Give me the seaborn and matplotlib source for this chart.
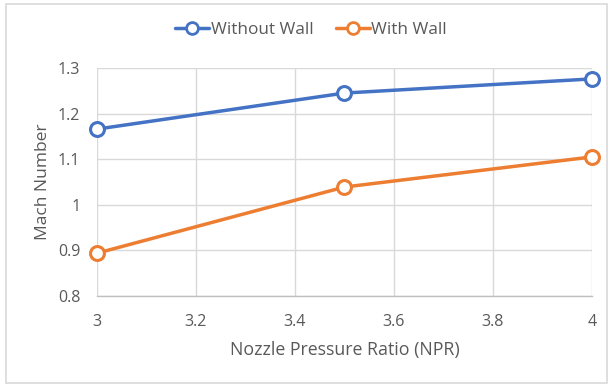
import matplotlib
matplotlib.use("Agg")
import matplotlib.pyplot as plt
import seaborn as sns
import pandas as pd
from matplotlib.patches import Rectangle
from matplotlib.lines import Line2D

npr = [3.0, 3.5, 4.0]
without_wall = [1.166, 1.245, 1.276]
with_wall = [0.894, 1.039, 1.105]
series_names = ["Without Wall", "With Wall"]
x_ticks = [3, 3.2, 3.4, 3.6, 3.8, 4]
x_tick_labels = ["3", "3.2", "3.4", "3.6", "3.8", "4"]
y_ticks = [0.8, 0.9, 1.0, 1.1, 1.2, 1.3]
y_tick_labels = ["0.8", "0.9", "1", "1.1", "1.2", "1.3"]

df = pd.DataFrame({
    "NPR": npr * 2,
    "Mach": without_wall + with_wall,
    "Series": [series_names[0]] * len(npr) + [series_names[1]] * len(npr),
})

sns.set_style("white")
plt.rcParams['font.family'] = ['Open Sans', 'DejaVu Sans']
text_color = "#595959"

fig = plt.figure(figsize=(6.12, 3.84), dpi=100)
ax = fig.add_axes([0.1585, 0.229, 0.8085, 0.594])

palette = {"Without Wall": "#4472C4", "With Wall": "#ED7D31"}
sns.lineplot(data=df, x="NPR", y="Mach", hue="Series", palette=palette,
             marker="o", markersize=10, markerfacecolor="white",
             markeredgewidth=2.2, linewidth=2.5, ax=ax, legend=False,
             clip_on=False, zorder=3)
for line in ax.get_lines():
    line.set_markeredgecolor(line.get_color())

ax.set_xlim(3, 4)
ax.set_ylim(0.8, 1.3)
ax.set_xticks(x_ticks)
ax.set_xticklabels(x_tick_labels)
ax.set_yticks(y_ticks)
ax.set_yticklabels(y_tick_labels)
ax.grid(True, color="#D9D9D9", linewidth=1)
for s in ["top", "right", "left"]:
    ax.spines[s].set_visible(False)
ax.spines["bottom"].set_color("#BFBFBF")
ax.spines["bottom"].set_linewidth(1)
ax.tick_params(axis="both", length=0, labelsize=11.5, colors=text_color)
ax.tick_params(axis="x", pad=13)
ax.tick_params(axis="y", pad=12)
ax.set_xlabel("Nozzle Pressure Ratio (NPR)", fontsize=12.8, color=text_color, labelpad=8)
ax.set_ylabel("Mach Number", fontsize=12.5, color=text_color, labelpad=5)

handles = [Line2D([0], [0], color=palette[n], linewidth=2.5, marker="o",
                  markersize=8.5, markerfacecolor="white", markeredgecolor=palette[n],
                  markeredgewidth=2) for n in series_names]
fig.legend(handles, series_names, loc="center", bbox_to_anchor=(0.508, 0.922),
           ncol=2, frameon=False, fontsize=12.3, labelcolor=text_color,
           handlelength=2.0, handletextpad=0.1, columnspacing=1.3)

fig.patches.append(Rectangle((0.010, 0.003), 0.982, 0.987, transform=fig.transFigure,
                             fill=False, edgecolor="#D9D9D9", linewidth=1.2))

fig.savefig("out.png", dpi=100, facecolor="white")
